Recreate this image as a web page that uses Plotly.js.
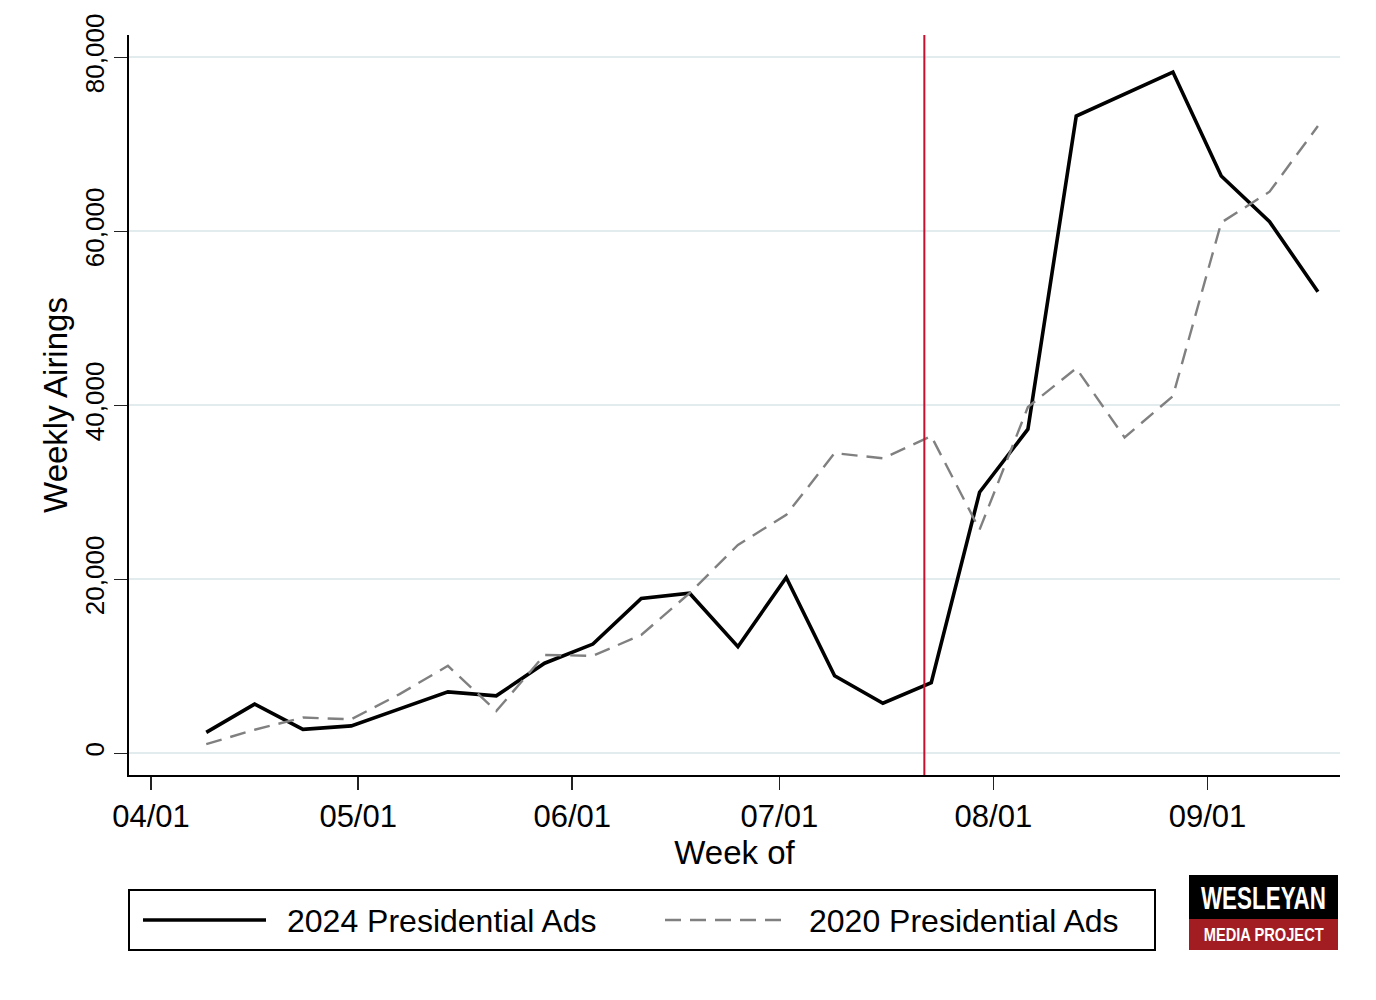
<!DOCTYPE html>
<html>
<head>
<meta charset="utf-8">
<script src="https://cdn.plot.ly/plotly-3.0.1.min.js"></script>
<style>
  html, body { margin: 0; padding: 0; background: #ffffff; }
  #chart { width: 1376px; height: 1000px; }
</style>
</head>
<body>
<div id="chart"></div>
<script>
// ---- data ----
const weeks = ['2024-04-09','2024-04-16','2024-04-23','2024-04-30','2024-05-07','2024-05-14',
  '2024-05-21','2024-05-28','2024-06-04','2024-06-11','2024-06-18','2024-06-25',
  '2024-07-02','2024-07-09','2024-07-16','2024-07-23','2024-07-30','2024-08-06',
  '2024-08-13','2024-08-20','2024-08-27','2024-09-03','2024-09-10','2024-09-17'];
const ads2024 = [2400, 5650, 2750, 3150, 5100, 7050, 6600, 10350, 12550, 17800, 18400, 12250,
  20200, 8900, 5750, 8100, 30000, 37250, 73250, 75800, 78300, 66350, 61100, 53050];
const ads2020 = [1050, 2700, 4100, 3900, 6800, 10050, 4850, 11300, 11200, 13600, 18400, 23950,
  27400, 34500, 33900, 36450, 25700, 39800, 44250, 36300, 41050, 61000, 64550, 72100];
const seriesNames = ['2024 Presidential Ads', '2020 Presidential Ads'];
const eventDate = '2024-07-22';
const xTickVals = ['2024-04-01','2024-05-01','2024-06-01','2024-07-01','2024-08-01','2024-09-01'];
const xTickText = ['04/01','05/01','06/01','07/01','08/01','09/01'];
const yTickVals = [0, 20000, 40000, 60000, 80000];
const xTitle = 'Week of';
const yTitle = 'Weekly Airings';
const logoTop = 'WESLEYAN';
const logoBottom = 'MEDIA PROJECT';

// ---- plot ----
const FONT = 'Liberation Sans, Arial, Helvetica, sans-serif';

const traces = [
  { x: weeks, y: ads2024, type: 'scatter', mode: 'lines', name: seriesNames[0],
    line: { color: '#000000', width: 3.6 }, showlegend: false, hoverinfo: 'x+y' },
  { x: weeks, y: ads2020, type: 'scatter', mode: 'lines', name: seriesNames[1],
    line: { color: '#808080', width: 2.4, dash: '16px,9px' }, showlegend: false, hoverinfo: 'x+y' }
];

// paper coordinate helpers for the legend / logo (plot area: x 129..1340, y 35..775)
const px = v => (v - 129) / 1211;
const py = v => (775 - v) / 740;

const shapes = [
  { type: 'line', xref: 'x', yref: 'paper', x0: eventDate, x1: eventDate, y0: 0, y1: 1,
    line: { color: '#c8102e', width: 2 } },
  // legend box
  { type: 'rect', xref: 'paper', yref: 'paper', x0: px(129), x1: px(1155), y0: py(890), y1: py(950),
    line: { color: '#000000', width: 2 }, fillcolor: 'rgba(0,0,0,0)' },
  { type: 'line', xref: 'paper', yref: 'paper', x0: px(143), x1: px(266), y0: py(920), y1: py(920),
    line: { color: '#000000', width: 3.6 } },
  { type: 'line', xref: 'paper', yref: 'paper', x0: px(665), x1: px(790), y0: py(920), y1: py(920),
    line: { color: '#808080', width: 2.4, dash: '16px,9px' } },
  // logo
  { type: 'rect', xref: 'paper', yref: 'paper', x0: px(1189), x1: px(1338), y0: py(875), y1: py(919),
    line: { width: 0 }, fillcolor: '#000000' },
  { type: 'rect', xref: 'paper', yref: 'paper', x0: px(1189), x1: px(1338), y0: py(919), y1: py(950),
    line: { width: 0 }, fillcolor: '#a11d21' }
];

const annotations = [
  { xref: 'paper', yref: 'paper', x: px(285), y: py(921), xanchor: 'left', yanchor: 'middle',
    text: seriesNames[0], showarrow: false, font: { family: FONT, size: 32, color: '#000000' } },
  { xref: 'paper', yref: 'paper', x: px(807), y: py(921), xanchor: 'left', yanchor: 'middle',
    text: seriesNames[1], showarrow: false, font: { family: FONT, size: 32, color: '#000000' } },
  { xref: 'paper', yref: 'paper', x: px(1263.5), y: py(898), xanchor: 'center', yanchor: 'middle',
    text: logoTop, showarrow: false, font: { family: FONT, size: 31, color: '#ffffff', weight: 'bold' } },
  { xref: 'paper', yref: 'paper', x: px(1263.5), y: py(935), xanchor: 'center', yanchor: 'middle',
    text: logoBottom, showarrow: false, font: { family: FONT, size: 18, color: '#ffffff', weight: 'bold' } }
];

const layout = {
  width: 1376, height: 1000,
  paper_bgcolor: '#ffffff', plot_bgcolor: '#ffffff',
  margin: { l: 129, r: 36, t: 35, b: 225, pad: 0 },
  font: { family: FONT, color: '#000000' },
  showlegend: false,
  xaxis: {
    type: 'date',
    range: ['2024-03-28 19:25', '2024-09-20 04:48'],
    tickvals: xTickVals, ticktext: xTickText,
    ticks: 'outside', ticklen: 13, tickwidth: 1.5, tickcolor: '#222222',
    tickfont: { family: FONT, size: 31, color: '#000000' },
    showgrid: false, zeroline: false,
    showline: true, linecolor: '#000000', linewidth: 2,
    ticklabelstandoff: 0,
    title: { text: xTitle, font: { family: FONT, size: 33, color: '#000000' }, standoff: 5 },
    automargin: false
  },
  yaxis: {
    range: [-2500, 82560],
    tickvals: yTickVals, tickformat: ',',
    tickangle: -90,
    ticks: 'outside', ticklen: 13, tickwidth: 1.5, tickcolor: '#222222',
    tickfont: { family: FONT, size: 26, color: '#000000' },
    showgrid: true, gridcolor: '#e2ebee', gridwidth: 1.6,
    zeroline: false,
    showline: true, linecolor: '#000000', linewidth: 2,
    title: { text: yTitle, font: { family: FONT, size: 33, color: '#000000' }, standoff: 2 },
    automargin: false
  },
  shapes: shapes,
  annotations: annotations
};

Plotly.newPlot('chart', traces, layout, { displayModeBar: false, staticPlot: true }).then(function () {
  // condense the logo lettering to the width of the reference logo
  const widths = {};
  widths[logoTop] = 125;
  widths[logoBottom] = 120;
  document.querySelectorAll('#chart .annotation-text').forEach(function (t) {
    const w = widths[t.textContent];
    if (w) {
      t.setAttribute('textLength', w);
      t.setAttribute('lengthAdjust', 'spacingAndGlyphs');
    }
  });
});
</script>
</body>
</html>
